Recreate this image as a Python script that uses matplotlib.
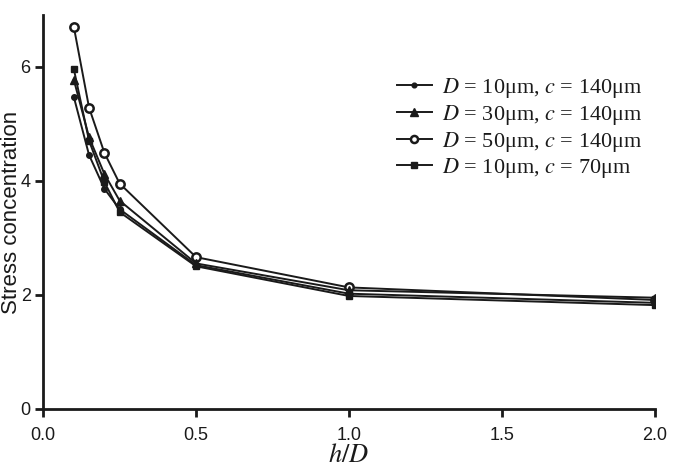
import matplotlib
matplotlib.use("Agg")
import matplotlib.pyplot as plt

# h/D positions and stress concentration values
h_over_d = [0.1, 0.15, 0.2, 0.25, 0.5, 1.0, 2.0]
d10_c140 = [5.47, 4.45, 3.86, 3.50, 2.52, 2.02, 1.86]
d30_c140 = [5.77, 4.76, 4.12, 3.65, 2.55, 2.08, 1.95]
d50_c140 = [6.70, 5.28, 4.49, 3.95, 2.66, 2.13, 1.91]
d10_c70 = [5.96, 4.70, 3.98, 3.45, 2.50, 1.98, 1.82]

labels = [
    r"$D$ = 10μm, $c$ = 140μm",
    r"$D$ = 30μm, $c$ = 140μm",
    r"$D$ = 50μm, $c$ = 140μm",
    r"$D$ = 10μm, $c$ = 70μm",
]

plt.rcParams["font.family"] = ["Liberation Sans", "DejaVu Sans"]
plt.rcParams["mathtext.fontset"] = "stix"

fig = plt.figure(figsize=(6.75, 4.75), dpi=100)
ax = fig.add_axes([0.064, 0.139, 0.906, 0.829])

col = "#1a1a1a"
ax.plot(h_over_d, d10_c140, color=col, lw=1.4, marker="o", ms=4, mfc=col, mec=col, label=labels[0], zorder=3)
ax.plot(h_over_d, d30_c140, color=col, lw=1.4, marker="^", ms=6, mfc=col, mec=col, label=labels[1], zorder=4)
ax.plot(h_over_d, d50_c140, color=col, lw=1.4, marker="o", ms=6, mfc="white", mec=col, mew=1.8, label=labels[2], zorder=2)
ax.plot(h_over_d, d10_c70, color=col, lw=1.4, marker="s", ms=4.5, mfc=col, mec=col, label=labels[3], zorder=3)

ax.set_xlim(0, 2.0)
ax.set_ylim(0, 6.9)
ax.set_xticks([0.0, 0.5, 1.0, 1.5, 2.0])
ax.set_xticklabels(["0.0", "0.5", "1.0", "1.5", "2.0"])
ax.set_yticks([0, 2, 4, 6])

for s in ["top", "right"]:
    ax.spines[s].set_visible(False)
for s in ["left", "bottom"]:
    ax.spines[s].set_linewidth(2)
    ax.spines[s].set_color(col)
ax.tick_params(direction="out", length=6, width=2, labelsize=13, colors=col)
ax.tick_params(axis="x", pad=7)
ax.tick_params(axis="y", pad=3)

ax.set_ylabel("Stress concentration", fontsize=16, color=col)
ax.yaxis.set_label_coords(-0.035, 0.5)
ax.set_xlabel(r"$h/D$", fontsize=19, color=col, labelpad=-1)

leg = ax.legend(loc="upper left", bbox_to_anchor=(0.578, 0.845), frameon=False,
                prop={"family": "Liberation Serif", "size": 16},
                handlelength=1.6, labelspacing=0.12, handletextpad=0.42,
                borderpad=0, borderaxespad=0, markerscale=0.85)
for t in leg.get_texts():
    t.set_color(col)

fig.savefig("out.png", dpi=100)
